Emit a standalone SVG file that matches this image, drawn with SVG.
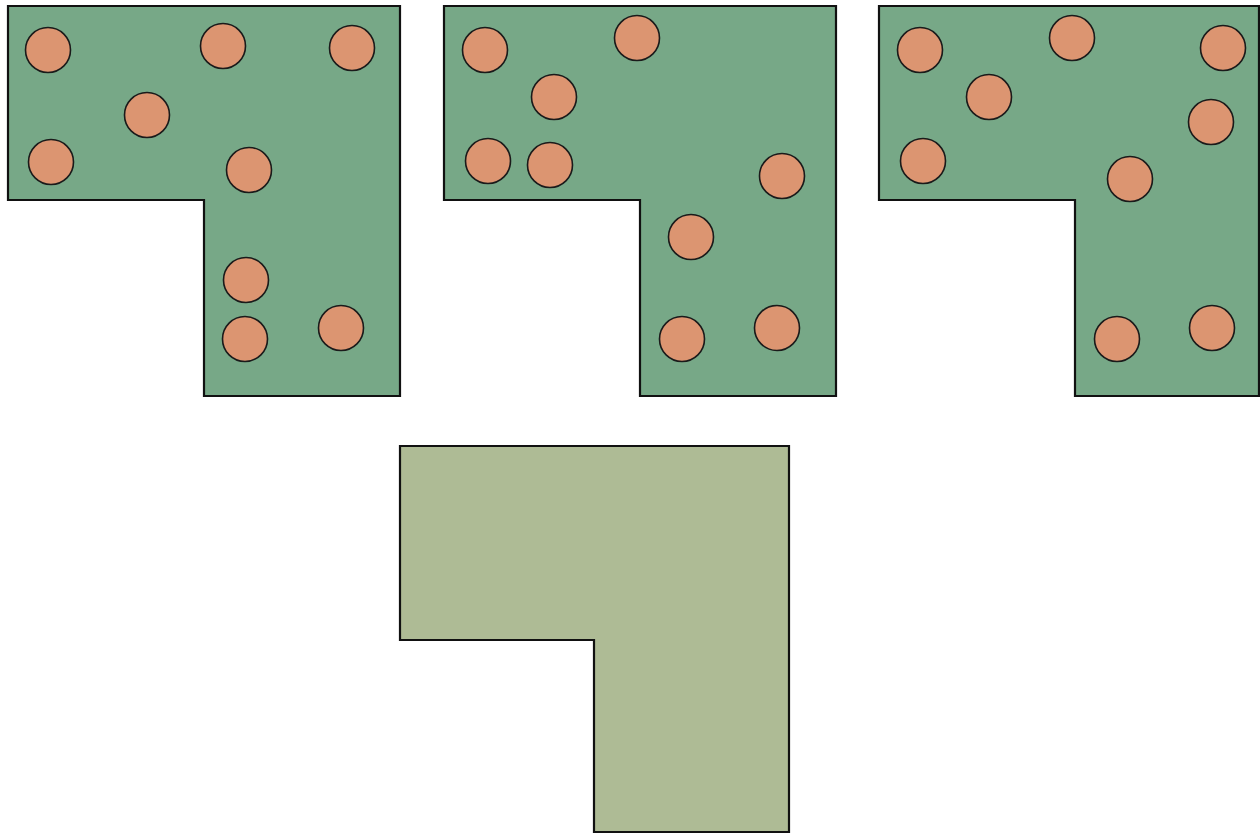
<svg xmlns="http://www.w3.org/2000/svg" width="1260" height="835" viewBox="0 0 1260 835">
<style>
.lot{fill:#77a887;stroke:#111;stroke-width:2.2;stroke-linejoin:miter}
.empty{fill:#aebb95;stroke:#111;stroke-width:2.2}
.tree{fill:#dc9571;stroke:#1a1a1a;stroke-width:1.6}
</style>
<rect width="1260" height="835" fill="#fff"/>
<g id="lot1">
<path class="lot" d="M8 6 H400 V396 H204 V200 H8 Z"/>
<circle class="tree" cx="48" cy="50" r="22.5"/>
<circle class="tree" cx="223" cy="46" r="22.5"/>
<circle class="tree" cx="352" cy="48" r="22.5"/>
<circle class="tree" cx="147" cy="115" r="22.5"/>
<circle class="tree" cx="51" cy="162" r="22.5"/>
<circle class="tree" cx="249" cy="170" r="22.5"/>
<circle class="tree" cx="246" cy="280" r="22.5"/>
<circle class="tree" cx="245" cy="339" r="22.5"/>
<circle class="tree" cx="341" cy="328" r="22.5"/>
</g>
<g id="lot2">
<path class="lot" d="M444 6 H836 V396 H640 V200 H444 Z"/>
<circle class="tree" cx="485" cy="50" r="22.5"/>
<circle class="tree" cx="637" cy="38" r="22.5"/>
<circle class="tree" cx="554" cy="97" r="22.5"/>
<circle class="tree" cx="488" cy="161" r="22.5"/>
<circle class="tree" cx="550" cy="165" r="22.5"/>
<circle class="tree" cx="782" cy="176" r="22.5"/>
<circle class="tree" cx="691" cy="237" r="22.5"/>
<circle class="tree" cx="682" cy="339" r="22.5"/>
<circle class="tree" cx="777" cy="328" r="22.5"/>
</g>
<g id="lot3">
<path class="lot" d="M879 6 H1259 V396 H1075 V200 H879 Z"/>
<circle class="tree" cx="920" cy="50" r="22.5"/>
<circle class="tree" cx="1072" cy="38" r="22.5"/>
<circle class="tree" cx="1223" cy="48" r="22.5"/>
<circle class="tree" cx="989" cy="97" r="22.5"/>
<circle class="tree" cx="1211" cy="122" r="22.5"/>
<circle class="tree" cx="923" cy="161" r="22.5"/>
<circle class="tree" cx="1130" cy="179" r="22.5"/>
<circle class="tree" cx="1117" cy="339" r="22.5"/>
<circle class="tree" cx="1212" cy="328" r="22.5"/>
</g>
<g id="lot4">
<path class="empty" d="M400 446 H789 V832 H594 V640 H400 Z"/>
</g>
<g id="connectors"></g>
</svg>
